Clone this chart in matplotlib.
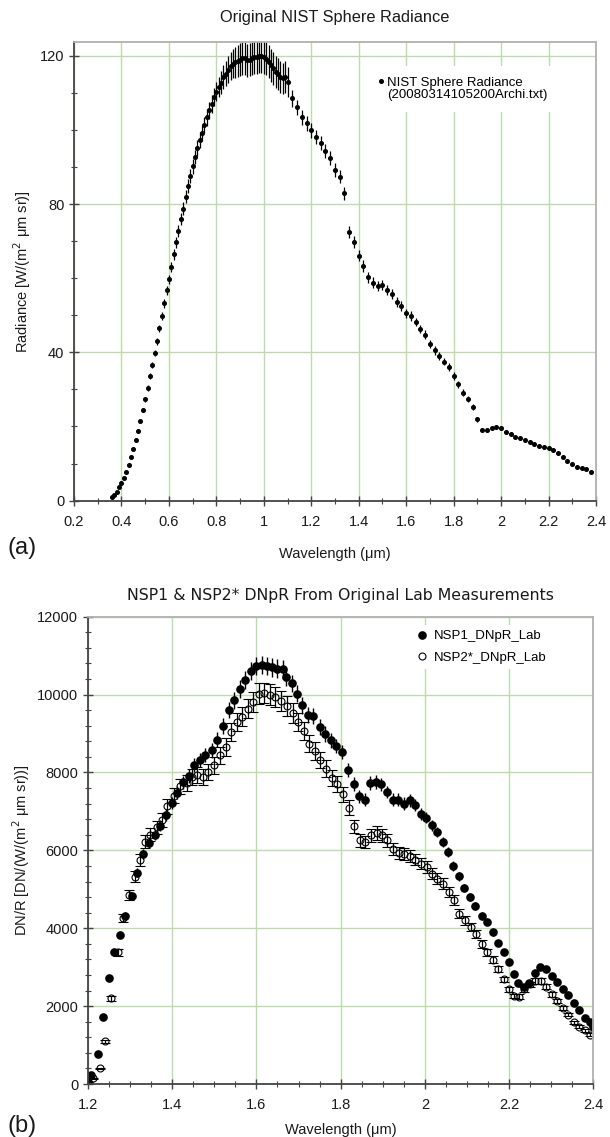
import numpy as np
import matplotlib
matplotlib.use('Agg')
import matplotlib.pyplot as plt
from matplotlib.lines import Line2D
from matplotlib.ticker import MultipleLocator, FormatStrFormatter

# -----------------------------------------------------------------------------
# (a) NIST sphere radiance, 0.01 um steps below 1.1 um, 0.02 um above
wl_sphere = [0.36, 0.37, 0.38, 0.39, 0.40, 0.41, 0.42, 0.43, 0.44, 0.45,
             0.46, 0.47, 0.48, 0.49, 0.50, 0.51, 0.52, 0.53, 0.54, 0.55,
             0.56, 0.57, 0.58, 0.59, 0.60, 0.61, 0.62, 0.63, 0.64, 0.65,
             0.66, 0.67, 0.68, 0.69, 0.70, 0.71, 0.72, 0.73, 0.74, 0.75,
             0.76, 0.77, 0.78, 0.79, 0.80, 0.81, 0.82, 0.83, 0.84, 0.85,
             0.86, 0.87, 0.88, 0.89, 0.90, 0.91, 0.92, 0.93, 0.94, 0.95,
             0.96, 0.97, 0.98, 0.99, 1.00, 1.01, 1.02, 1.03, 1.04, 1.05,
             1.06, 1.07, 1.08, 1.09, 1.10,
             1.12, 1.14, 1.16, 1.18, 1.20, 1.22, 1.24, 1.26, 1.28, 1.30,
             1.32, 1.34, 1.36, 1.38, 1.40, 1.42, 1.44, 1.46, 1.48, 1.50,
             1.52, 1.54, 1.56, 1.58, 1.60, 1.62, 1.64, 1.66, 1.68, 1.70,
             1.72, 1.74, 1.76, 1.78, 1.80, 1.82, 1.84, 1.86, 1.88, 1.90,
             1.92, 1.94, 1.96, 1.98, 2.00, 2.02, 2.04, 2.06, 2.08, 2.10,
             2.12, 2.14, 2.16, 2.18, 2.20, 2.22, 2.24, 2.26, 2.28, 2.30,
             2.32, 2.34, 2.36, 2.38]
rad_sphere = [1.0, 1.4, 2.3, 3.6, 4.7, 6.2, 7.8, 9.6, 11.7, 14.0,
              16.3, 18.9, 21.5, 24.4, 27.3, 30.5, 33.6, 36.6, 39.8, 43.0,
              46.5, 49.9, 53.2, 56.8, 59.7, 63.1, 66.4, 69.7, 72.7, 75.9,
              78.8, 82.0, 84.9, 87.6, 90.2, 92.7, 95.1, 97.3, 99.2, 101.3,
              103.4, 105.3, 107.0, 108.9, 110.3, 111.6, 112.8, 114.2, 115.2, 116.3,
              117.2, 117.9, 118.3, 118.6, 119.0, 119.3, 119.3, 118.8, 119.0, 119.3,
              119.6, 119.7, 119.9, 120.0, 119.7, 119.2, 118.4, 117.4, 116.6, 115.7,
              115.0, 114.3, 113.9, 114.3, 113.0,
              108.5, 106.1, 103.4, 101.8, 99.9, 98.0, 96.4, 94.2, 92.4, 89.2,
              87.4, 82.9, 72.4, 69.8, 66.1, 63.3, 60.2, 58.8, 57.9, 58.2,
              56.8, 55.7, 53.6, 52.5, 50.5, 49.8, 48.2, 46.3, 44.7, 42.3,
              40.5, 39.0, 37.5, 36.1, 33.6, 31.4, 29.1, 27.3, 25.2, 21.9,
              19.0, 19.0, 19.5, 19.8, 19.5, 18.6, 18.0, 17.1, 16.8, 16.3,
              15.7, 15.4, 14.7, 14.5, 14.1, 13.6, 12.9, 11.8, 10.8, 9.9,
              9.1, 8.7, 8.4, 7.8]
err_sphere = [0.3, 0.3, 0.3, 0.3, 0.3, 0.3, 0.3, 0.3, 0.4, 0.4,
              0.4, 0.5, 0.5, 0.6, 0.7, 0.8, 0.8, 0.9, 0.9, 1.0,
              1.0, 1.1, 1.2, 1.2, 1.3, 1.4, 1.4, 1.5, 1.6, 1.6,
              1.7, 1.8, 1.8, 1.9, 2.0, 2.0, 2.1, 2.1, 2.2, 2.2,
              2.3, 2.3, 2.4, 2.5, 2.6, 2.8, 3.0, 3.2, 3.4, 3.6,
              3.8, 4.0, 4.2, 4.3, 4.4, 4.4, 4.5, 4.5, 4.5, 4.5,
              4.5, 4.5, 4.6, 4.6, 4.6, 4.5, 4.5, 4.4, 4.4, 4.3,
              4.3, 4.2, 4.2, 4.2, 4.1,
              2.2, 2.1, 2.0, 2.0, 2.0, 1.9, 1.9, 1.9, 1.8, 1.8,
              1.8, 1.8, 1.6, 1.6, 1.5, 1.5, 1.4, 1.4, 1.4, 1.4,
              1.4, 1.4, 1.3, 1.3, 1.3, 1.3, 1.2, 1.2, 1.2, 1.1,
              1.1, 1.1, 1.0, 1.0, 1.0, 0.9, 0.9, 0.8, 0.8, 0.7,
              0.5, 0.5, 0.5, 0.5, 0.5, 0.4, 0.4, 0.4, 0.4, 0.4,
              0.4, 0.4, 0.4, 0.4, 0.3, 0.3, 0.3, 0.3, 0.3, 0.3,
              0.3, 0.3, 0.3, 0.3]

# (b) DN per radiance from the lab measurements
wl_nsp1 = [1.199, 1.207, 1.223, 1.235, 1.249, 1.262, 1.276, 1.289, 1.304, 1.317,
           1.331, 1.344, 1.359, 1.371, 1.385, 1.399, 1.412, 1.426, 1.440, 1.452,
           1.466, 1.479, 1.494, 1.507, 1.521, 1.534, 1.547, 1.561, 1.574, 1.587,
           1.600, 1.614, 1.626, 1.638, 1.650, 1.662, 1.671, 1.685, 1.697, 1.709,
           1.723, 1.735, 1.750, 1.763, 1.777, 1.790, 1.804, 1.818, 1.832, 1.844,
           1.858, 1.870, 1.884, 1.897, 1.911, 1.925, 1.937, 1.950, 1.965, 1.976,
           1.990, 2.003, 2.016, 2.028, 2.042, 2.056, 2.067, 2.081, 2.094, 2.107,
           2.120, 2.135, 2.148, 2.161, 2.174, 2.188, 2.200, 2.212, 2.222, 2.235,
           2.248, 2.262, 2.273, 2.288, 2.301, 2.315, 2.329, 2.341, 2.354, 2.367,
           2.380, 2.392, 2.400]
dnr_nsp1 = [60, 233, 776, 1725, 2716, 3397, 3829, 4320, 4830, 5425,
            5906, 6201, 6398, 6631, 6908, 7218, 7476, 7750, 7903, 8185,
            8314, 8442, 8571, 8846, 9196, 9599, 9856, 10139, 10370, 10609,
            10730, 10755, 10730, 10696, 10670, 10645, 10439, 10285, 10028, 9728,
            9471, 9445, 9170, 8982, 8828, 8680, 8527, 8075, 7705, 7390,
            7304, 7731, 7757, 7697, 7499, 7304, 7304, 7201, 7286, 7157,
            6944, 6841, 6643, 6471, 6214, 5957, 5590, 5333, 5033, 4801,
            4575, 4320, 4173, 3898, 3622, 3397, 3122, 2820, 2587, 2501,
            2605, 2846, 2993, 2949, 2776, 2621, 2450, 2277, 2088, 1896,
            1700, 1586, 1470]
err_nsp1 = [10, 10, 20, 40, 60, 75, 85, 95, 105, 120,
            130, 135, 140, 145, 150, 160, 165, 170, 175, 180,
            185, 185, 190, 195, 200, 210, 215, 225, 230, 235,
            235, 235, 235, 235, 235, 235, 230, 225, 220, 215,
            210, 210, 200, 200, 195, 190, 190, 180, 170, 165,
            160, 170, 170, 170, 165, 160, 160, 160, 160, 155,
            155, 150, 145, 140, 135, 130, 125, 115, 110, 105,
            100, 95, 90, 85, 80, 75, 70, 60, 55, 55,
            55, 60, 65, 65, 60, 55, 55, 50, 45, 40,
            35, 35, 30]

wl_nsp2 = [1.200, 1.212, 1.228, 1.240, 1.254, 1.272, 1.284, 1.297, 1.311, 1.323,
           1.335, 1.347, 1.363, 1.375, 1.388, 1.405, 1.419, 1.434, 1.447, 1.460,
           1.474, 1.486, 1.500, 1.514, 1.527, 1.540, 1.553, 1.566, 1.580, 1.592,
           1.606, 1.619, 1.633, 1.645, 1.659, 1.673, 1.686, 1.699, 1.712, 1.725,
           1.739, 1.752, 1.766, 1.780, 1.792, 1.806, 1.820, 1.832, 1.846, 1.859,
           1.872, 1.886, 1.899, 1.911, 1.925, 1.938, 1.950, 1.965, 1.977, 1.990,
           2.004, 2.018, 2.030, 2.044, 2.057, 2.069, 2.082, 2.095, 2.109, 2.121,
           2.135, 2.148, 2.161, 2.174, 2.188, 2.200, 2.212, 2.224, 2.235, 2.250,
           2.262, 2.275, 2.288, 2.303, 2.315, 2.329, 2.341, 2.354, 2.367, 2.380,
           2.393]
dnr_nsp2 = [50, 147, 405, 1095, 2199, 3380, 4260, 4846, 5321, 5751,
            6227, 6398, 6589, 6786, 7131, 7400, 7640, 7731, 7885, 7928,
            7885, 8013, 8185, 8442, 8656, 9042, 9298, 9427, 9642, 9813,
            10028, 10044, 10002, 9941, 9838, 9702, 9530, 9298, 9060, 8743,
            8550, 8320, 8100, 7856, 7706, 7440, 7098, 6618, 6258, 6214,
            6386, 6446, 6386, 6258, 6044, 5932, 5915, 5847, 5762, 5659,
            5572, 5402, 5273, 5145, 4929, 4716, 4373, 4199, 4028, 3855,
            3596, 3381, 3190, 2949, 2690, 2432, 2258, 2241, 2432, 2561,
            2647, 2647, 2501, 2303, 2129, 1958, 1785, 1586, 1467, 1379,
            1268]
err_nsp2 = [5, 10, 15, 30, 55, 85, 110, 125, 140, 150,
            160, 165, 170, 175, 185, 190, 200, 200, 205, 205,
            205, 210, 215, 220, 225, 235, 240, 245, 250, 255,
            260, 260, 260, 260, 255, 250, 250, 240, 235, 225,
            220, 215, 210, 205, 200, 195, 185, 170, 165, 160,
            165, 170, 165, 165, 155, 155, 155, 150, 150, 145,
            145, 140, 135, 135, 130, 125, 115, 110, 105, 100,
            95, 90, 85, 75, 70, 65, 60, 60, 65, 65,
            70, 70, 65, 60, 55, 50, 45, 40, 40, 35,
            35]

# -----------------------------------------------------------------------------
GRID = '#bcdcaa'
TXT = '#1a1a1a'
plt.rcParams['font.family'] = ['Liberation Sans', 'DejaVu Sans']


def style_axes(ax):
    ax.grid(True, which='major', color=GRID, lw=1.0)
    ax.set_axisbelow(True)
    for s in ('left', 'bottom'):
        ax.spines[s].set_color('#444444')
        ax.spines[s].set_linewidth(1.3)
    for s in ('top', 'right'):
        ax.spines[s].set_color('#b0b0b0')
        ax.spines[s].set_linewidth(1.3)
    ax.tick_params(which='major', direction='inout', length=7, width=1.0,
                   colors='#444444', labelcolor=TXT, labelsize=10.5,
                   top=False, right=False)
    ax.tick_params(axis='x', which='major', pad=6.5)
    ax.tick_params(which='minor', direction='inout', length=4, width=0.8,
                   colors='#444444', top=False, right=False)


def white_legend(ax, handles, labels, anchor, spacing, pad, hlen, tpad):
    # legend on a white patch with no border, like the original plot
    leg = ax.legend(handles, labels, loc='upper left', bbox_to_anchor=anchor,
                    frameon=True, fancybox=False, fontsize=9.5,
                    handlelength=hlen, handletextpad=tpad,
                    labelspacing=spacing, borderpad=pad, borderaxespad=0)
    leg.get_frame().set_facecolor('white')
    leg.get_frame().set_edgecolor('none')
    leg.get_frame().set_alpha(1.0)
    return leg


fig = plt.figure(figsize=(6.10, 11.37), dpi=100)

# ---- panel (a)
ax1 = fig.add_axes([0.1213, 0.5597, 0.8557, 0.4036])
ax1.errorbar(wl_sphere, rad_sphere, yerr=err_sphere, fmt='o', ms=2.6,
             color='black', ecolor='black', elinewidth=0.9, capsize=0)
ax1.set_xlim(0.2, 2.4)
ax1.set_ylim(0, 123.8)
ax1.xaxis.set_major_locator(MultipleLocator(0.2))
ax1.xaxis.set_minor_locator(MultipleLocator(0.1))
ax1.xaxis.set_major_formatter(FormatStrFormatter('%g'))
ax1.yaxis.set_major_locator(MultipleLocator(40))
ax1.yaxis.set_minor_locator(MultipleLocator(10))
style_axes(ax1)
ax1.set_title('Original NIST Sphere Radiance', fontsize=11.8, color=TXT, pad=14)
ax1.set_xlabel('Wavelength (\u03bcm)', fontsize=10.5, color=TXT, labelpad=13)
ax1.set_ylabel('Radiance [W/(m$^2$ \u03bcm sr)]', fontsize=10.5, color=TXT,
               labelpad=5)
h1 = [Line2D([], [], ls='none', marker='o', ms=2.6, color='black'),
      Line2D([], [], ls='none', marker='', color='none')]
white_legend(ax1, h1, ['NIST Sphere Radiance', '(20080314105200Archi.txt)'],
             (0.561, 0.947), 0.0, 0.8, 0.6, 0.15)

# ---- panel (b)
ax2 = fig.add_axes([0.1443, 0.0466, 0.8282, 0.4110])
ax2.errorbar(wl_nsp2, dnr_nsp2, yerr=err_nsp2, fmt='o', ms=5.0, mfc='none',
             mec='black', mew=0.8, ecolor='black', elinewidth=0.9,
             capsize=3.6, capthick=0.9)
ax2.errorbar(wl_nsp1, dnr_nsp1, yerr=err_nsp1, fmt='o', ms=5.2,
             color='black', ecolor='black', elinewidth=1.0, capsize=0)
ax2.set_xlim(1.2, 2.4)
ax2.set_ylim(0, 12000)
ax2.xaxis.set_major_locator(MultipleLocator(0.2))
ax2.xaxis.set_minor_locator(MultipleLocator(0.05))
ax2.xaxis.set_major_formatter(FormatStrFormatter('%g'))
ax2.yaxis.set_major_locator(MultipleLocator(2000))
ax2.yaxis.set_minor_locator(MultipleLocator(400))
style_axes(ax2)
ax2.set_title('NSP1 & NSP2* DNpR From Original Lab Measurements',
              fontsize=11.3, color=TXT, pad=12, family='DejaVu Sans')
ax2.set_xlabel('Wavelength (\u03bcm)', fontsize=10.5, color=TXT, labelpad=8)
ax2.set_ylabel('DN/R [DN/(W/(m$^2$ \u03bcm sr))]', fontsize=10.5, color=TXT,
               labelpad=4)
h2 = [Line2D([], [], ls='none', marker='o', ms=5.2, color='black'),
      Line2D([], [], ls='none', marker='o', ms=5.0, mfc='none', mec='black',
             mew=0.8)]
white_legend(ax2, h2, ['NSP1_DNpR_Lab', 'NSP2*_DNpR_Lab'],
             (0.641, 0.983), 0.70, 0.4, 0.8, 0.5)

fig.text(0.013, 1 - 548 / 1137, '(a)', fontsize=17, color=TXT, va='center')
fig.text(0.013, 0.010, '(b)', fontsize=17, color=TXT, va='center')

fig.savefig('out.png', dpi=100)
